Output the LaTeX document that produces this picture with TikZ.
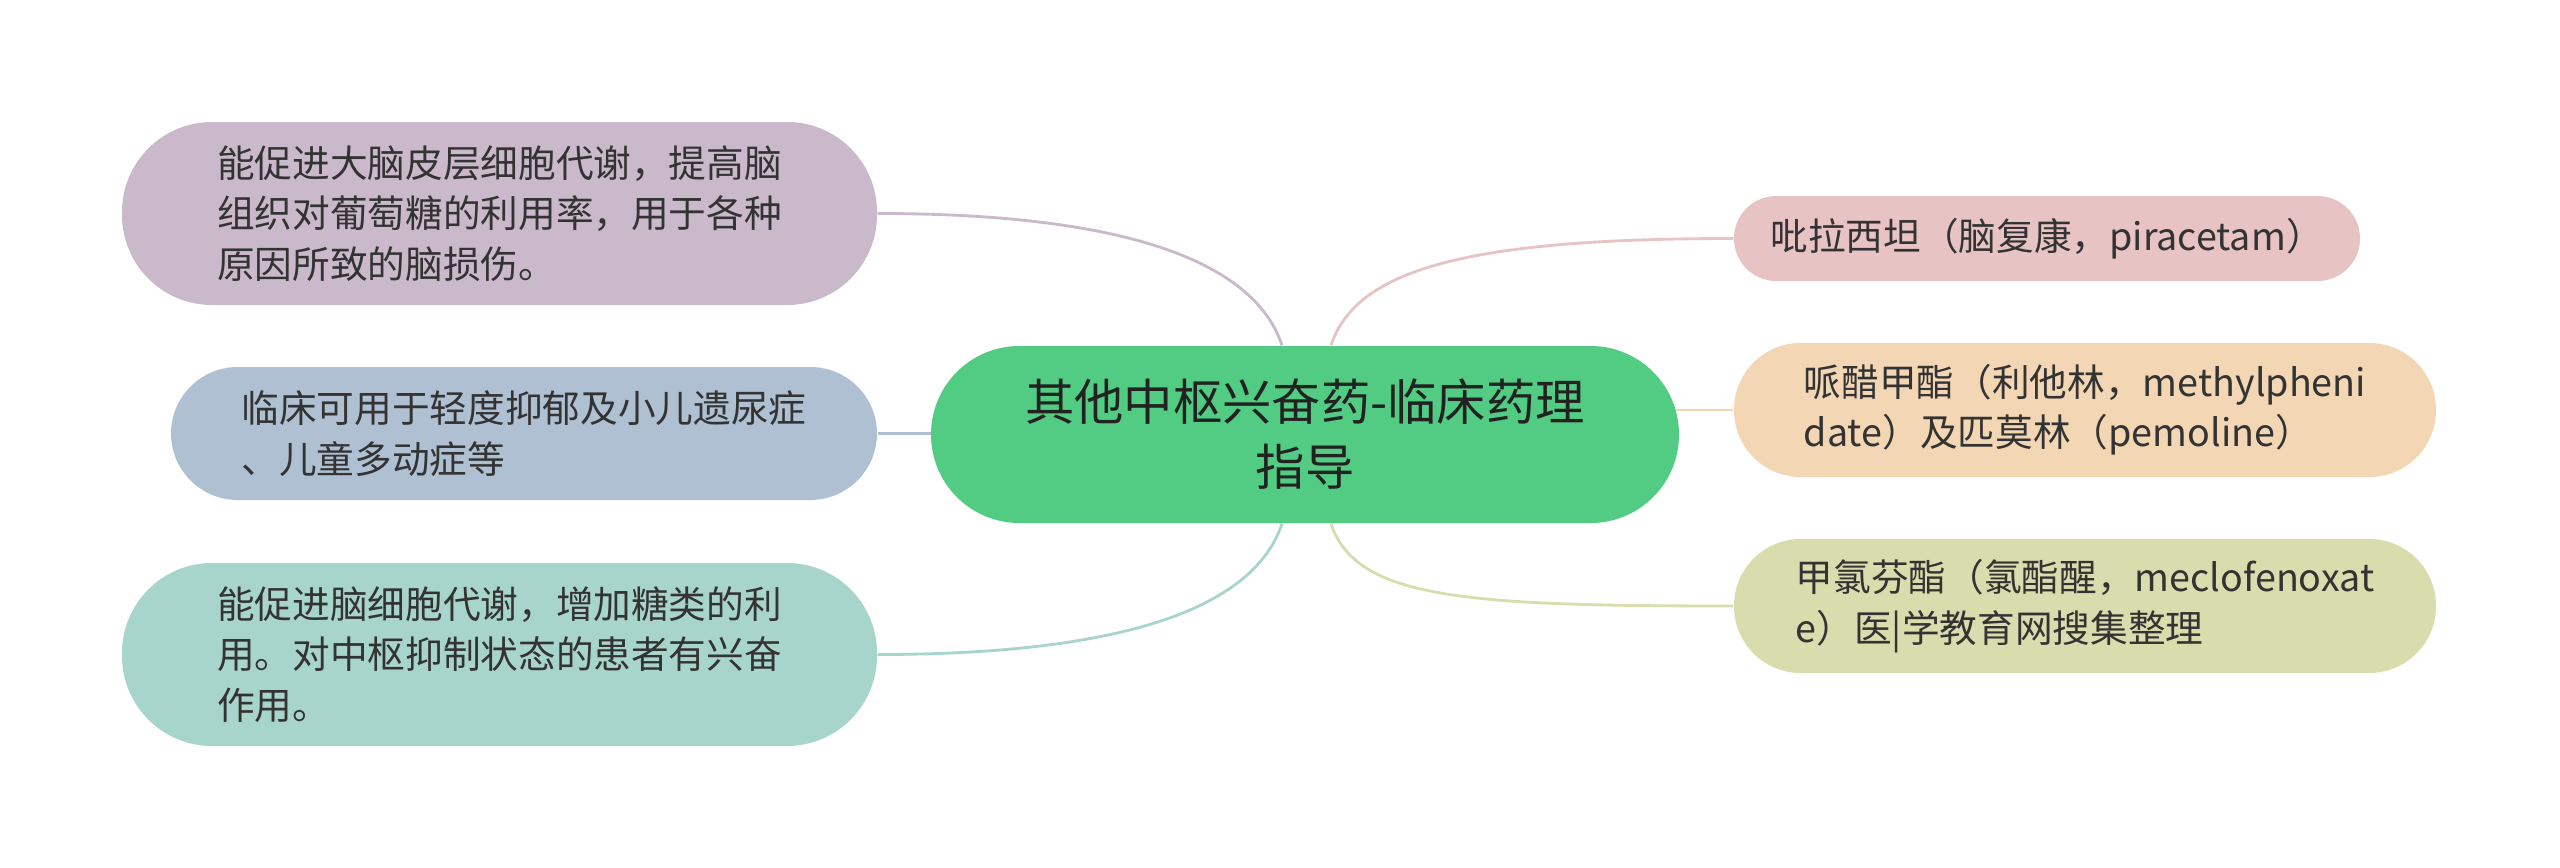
\documentclass[tikz,border=0pt]{standalone}
\usepackage{fontspec}
\setmainfont{Noto Sans CJK SC}
\usetikzlibrary{backgrounds,calc}
\definecolor{cgreen}{HTML}{52CC83}
\definecolor{cpurple}{HTML}{C9B9CA}
\definecolor{cblue}{HTML}{AFC0D2}
\definecolor{cteal}{HTML}{A8D5CB}
\definecolor{cpink}{HTML}{E8C3C3}
\definecolor{corange}{HTML}{F3D6B3}
\definecolor{colive}{HTML}{D9DDAD}
\definecolor{textc}{HTML}{333333}
\definecolor{titlec}{HTML}{222222}
\begin{document}
\begin{tikzpicture}[x=0.3pt,y=-0.3pt,
  box/.style={rectangle, inner sep=0pt, text=textc, align=left,
    font=\fontsize{11.3}{15.1}\selectfont},
  tallbox/.style={box, minimum width=226.5pt, minimum height=54.9pt, rounded corners=27pt},
  midbox/.style={box, minimum width=210.6pt, minimum height=40.2pt, rounded corners=20pt},
  smallbox/.style={box, minimum width=187.8pt, minimum height=25.5pt, rounded corners=12.7pt},
  titlebox/.style={rectangle, inner sep=0pt, fill=cgreen, text=titlec, align=center,
    minimum width=224.4pt, minimum height=53.1pt, rounded corners=26.5pt,
    font=\fontsize{14.8}{19.5}\selectfont},
  link/.style={line width=0.85pt}]
\useasboundingbox (0,0) rectangle (2560,868);

\node[titlebox] (C) at (1305,434.5) {其他中枢兴奋药-临床药理\\指导};

\node[tallbox, fill=cpurple] (L1) at (499.5,213.5)
  {能促进大脑皮层细胞代谢，提高脑\\组织对葡萄糖的利用率，用于各种\\原因所致的脑损伤。};
\node[box, minimum width=211.8pt, minimum height=39.9pt, rounded corners=20pt, fill=cblue] (L2) at (524,433.5)
  {临床可用于轻度抑郁及小儿遗尿症\\、儿童多动症等};
\node[tallbox, fill=cteal] (L3) at (499.5,654.5)
  {能促进脑细胞代谢，增加糖类的利\\用。对中枢抑制状态的患者有兴奋\\作用。};

\node[smallbox, fill=cpink] (R1) at (2047,238.5)
  {吡拉西坦（脑复康，piracetam）};
\node[midbox, fill=corange] (R2) at (2085,410)
  {哌醋甲酯（利他林，methylpheni\\date）及匹莫林（pemoline）};
\node[midbox, fill=colive] (R3) at (2085,606)
  {甲氯芬酯（氯酯醒，meclofenoxat\\e）医|学教育网搜集整理};

\coordinate (CTL) at ($(C.north)+(-23,0)$);
\coordinate (CTR) at ($(C.north)+(26,0)$);
\coordinate (CBL) at ($(C.south)+(-23,0)$);
\coordinate (CBR) at ($(C.south)+(26,0)$);

\begin{scope}[on background layer]
\draw[link, draw=cpurple] (L1.east) .. controls +(270,0) and +(-25,-75) .. (CTL);
\draw[link, draw=cteal] (L3.east) .. controls +(270,0) and +(-25,75) .. (CBL);
\draw[link, draw=cblue] (L2.east) -- (L2.east -| C.center);
\draw[link, draw=cpink] (R1.west) .. controls +(-270,0) and +(25,-75) .. (CTR);
\draw[link, draw=colive] (R3.west) .. controls +(-270,0) and +(25,75) .. (CBR);
\draw[link, draw=corange] (R2.west) -- (R2.west -| C.center);
\end{scope}
\end{tikzpicture}
\end{document}
